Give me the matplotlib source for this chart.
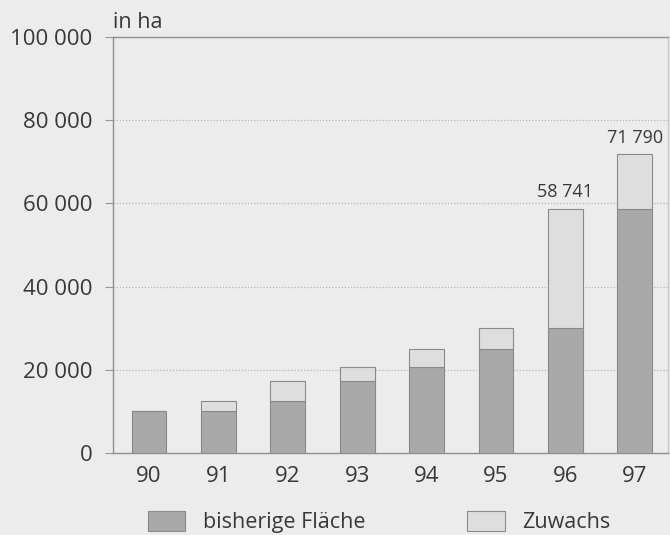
import numpy as np
import matplotlib.pyplot as plt
from matplotlib.patches import Patch

# ---------------------------
# Data (Fläche in ha)
# ---------------------------
years = ["90", "91", "92", "93", "94", "95", "96", "97"]
bisherige = [10000, 10000, 12500, 17300, 20700, 24900, 30000, 58741]
zuwachs = [0, 2500, 4800, 3400, 4200, 5100, 28741, 13049]
labelled = {6: "58 741", 7: "71 790"}

yticks = [0, 20000, 40000, 60000, 80000, 100000]
ytick_labels = ["0", "20 000", "40 000", "60 000", "80 000", "100 000"]

bg = "#ececec"
dark = "#a9a9a9"
light = "#dedede"
edge = "#8a8a8a"
text_col = "#383838"

plt.rcParams["font.family"] = ["Open Sans", "DejaVu Sans"]

fig = plt.figure(figsize=(6.7, 5.35), dpi=100, facecolor=bg)
ax = fig.add_axes([113 / 670, 1 - 453 / 535, (668 - 113) / 670, (453 - 37) / 535])
ax.set_facecolor(bg)

x = np.arange(len(years))
ax.bar(x, bisherige, width=0.5, color=dark, edgecolor=edge, linewidth=0.8, zorder=3)
ax.bar(x, zuwachs, width=0.5, bottom=bisherige, color=light, edgecolor=edge,
       linewidth=0.8, zorder=3)

totals = np.array(bisherige) + np.array(zuwachs)
for i, txt in labelled.items():
    ax.text(x[i], totals[i] + 1800, txt, ha="center", va="bottom",
            fontsize=13, color=text_col)

ax.set_xlim(-0.52, 7.48)
ax.set_ylim(0, 100000)
ax.set_xticks(x)
ax.set_xticklabels(years)
ax.set_yticks(yticks)
ax.set_yticklabels(ytick_labels)
ax.tick_params(axis="x", length=0, pad=9, labelsize=16, labelcolor=text_col)
ax.tick_params(axis="y", length=6, width=0.8, color="#999999", pad=9,
               labelsize=16, labelcolor=text_col)

# dotted grid lines for the intermediate values
for v in yticks[1:-1]:
    ax.axhline(v, color="#b5b5b5", linestyle=(0, (1, 1.5)), linewidth=0.9, zorder=1)

for side in ["left", "top", "bottom", "right"]:
    ax.spines[side].set_color("#8f8f8f")
    ax.spines[side].set_linewidth(1.0)
ax.spines["right"].set_color("#c8c8c8")

ax.text(0.0, 1.01, "in ha", transform=ax.transAxes, ha="left", va="bottom",
        fontsize=15.5, color=text_col)

handles = [Patch(facecolor=dark, edgecolor=edge, linewidth=0.8),
           Patch(facecolor=light, edgecolor=edge, linewidth=0.8)]
fig.legend(handles, ["bisherige Fläche", "Zuwachs"], loc="center",
           bbox_to_anchor=(0.566, 1 - 522 / 535), ncol=2, frameon=False,
           fontsize=15.5, labelcolor=text_col, handlelength=1.75, handleheight=1.1,
           handletextpad=0.8, columnspacing=4.75)

fig.savefig("out.png", dpi=100, facecolor=bg)
